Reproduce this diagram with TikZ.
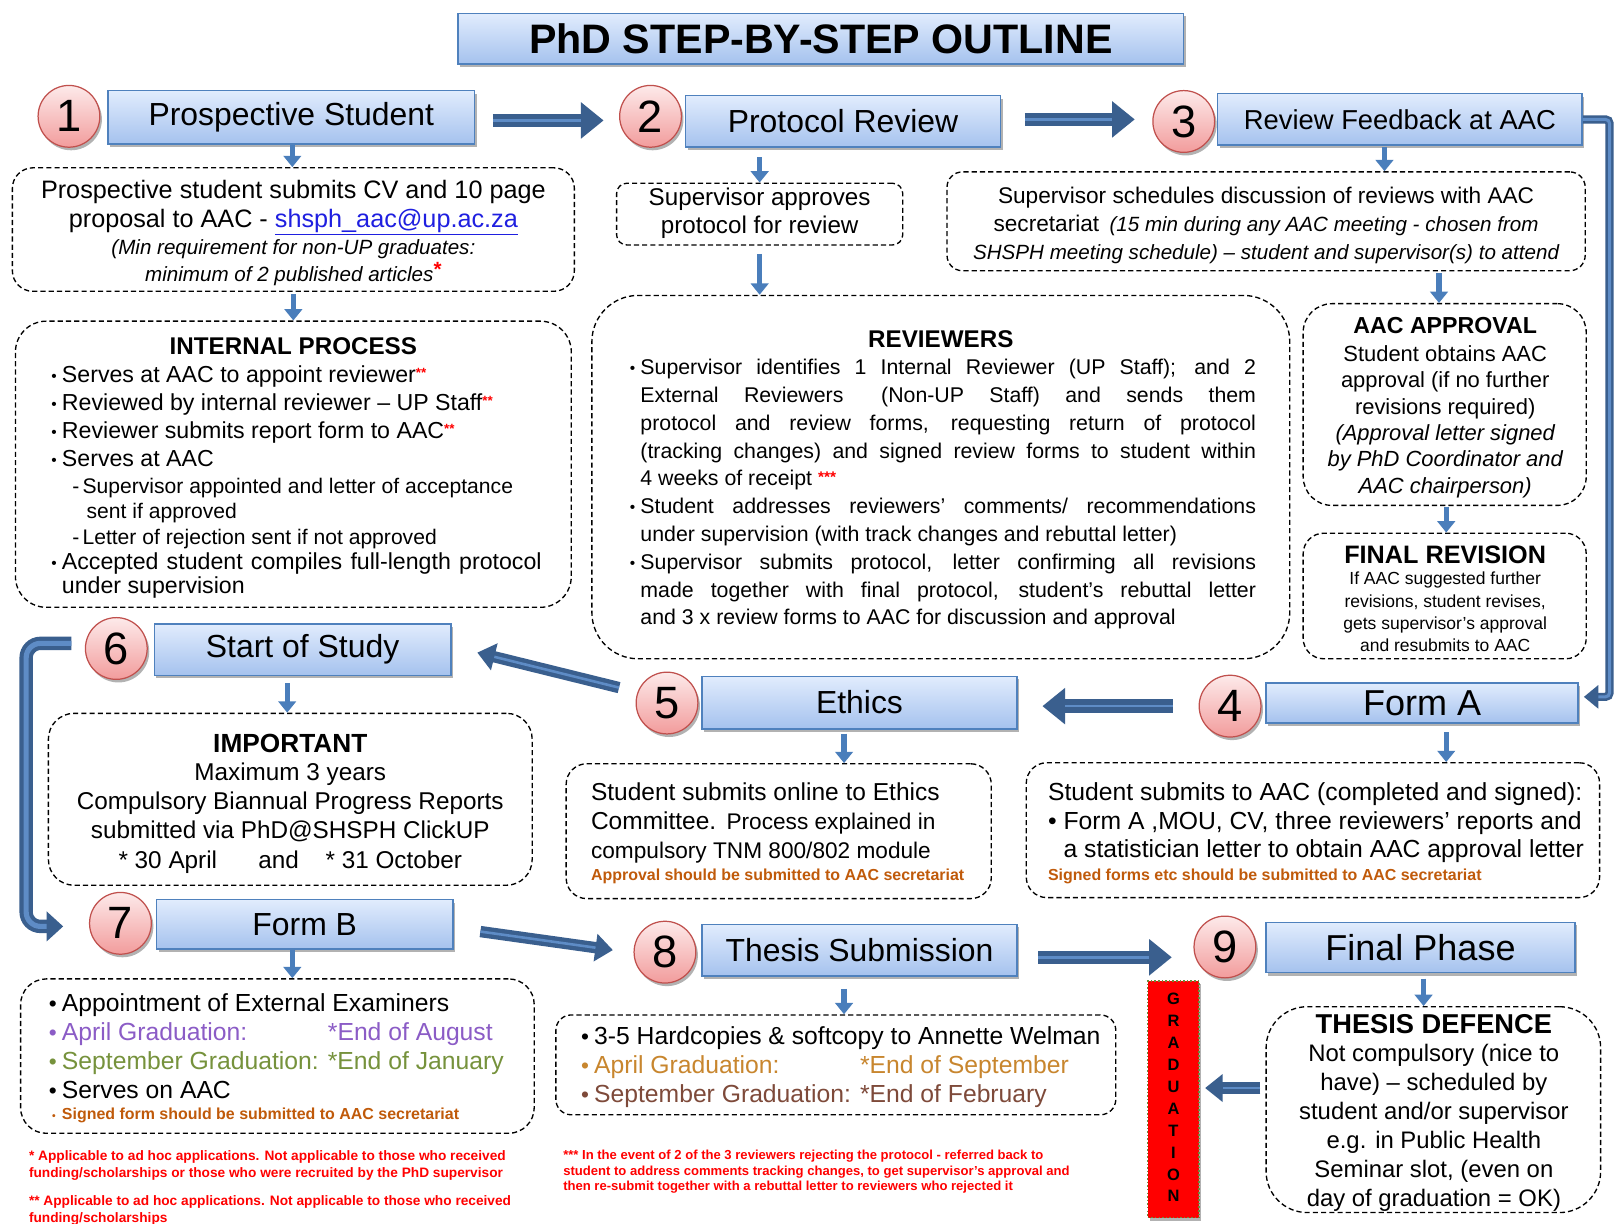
\documentclass[tikz,border=0pt]{standalone}
\usepackage{fontspec}
\setmainfont{Liberation Sans}
\usetikzlibrary{arrows.meta,shadows,calc}
\definecolor{hdrtop}{HTML}{E1ECFD}
\definecolor{hdrbot}{HTML}{A5C2EE}
\definecolor{hdrline}{HTML}{4F81BD}
\definecolor{ctop}{HTML}{FDEAEA}
\definecolor{cbot}{HTML}{F29C9C}
\definecolor{cline}{HTML}{C0504D}
\definecolor{adark}{HTML}{3A5F8E}
\definecolor{alight}{HTML}{5E8CC6}
\definecolor{sblue}{HTML}{4A7EBB}
\definecolor{linkblue}{HTML}{1F1FE0}
\definecolor{purp}{HTML}{8B5CC6}
\definecolor{olivec}{HTML}{76923C}
\definecolor{orng}{HTML}{C8862E}
\definecolor{brwn}{HTML}{7E4A3A}
\definecolor{sbrown}{HTML}{C05A0A}
\definecolor{gradred}{HTML}{FF0000}
\definecolor{gradline}{HTML}{6A8C3A}
\newcommand\fs[2]{\fontsize{#1}{#2}\selectfont}
\newcommand\cvt[1]{\vtop{\lineskiplimit=-\maxdimen\lineskip=0pt\halign{\hfil##\hfil\cr#1\crcr}}}
\newcommand\lvt[1]{\vtop{\lineskiplimit=-\maxdimen\lineskip=0pt\halign{##\hfil\cr#1\crcr}}}
\newcommand\jvt[1]{\vtop{\lineskiplimit=-\maxdimen\lineskip=0pt #1}}
\newcommand\bul{\llap{{\fs{15}{15}\raisebox{1pt}{\textbullet}}\hspace{5pt}}}
\newcommand\bulb{\llap{{\fs{22}{22}\textbullet}\hspace{5pt}}}
\newcommand\rs{{\color{red}\raisebox{5pt}{\fs{13}{13}\bfseries **}}}
\begin{document}
\begin{tikzpicture}[x=1pt,y=-1pt,
  hdr/.style={draw=hdrline, line width=1.4pt, top color=hdrtop, bottom color=hdrbot, inner sep=0pt,
    drop shadow={shadow xshift=2pt,shadow yshift=-3pt,opacity=0.3,fill=black}},
  circ/.style={circle, draw=cline, line width=1.2pt, top color=ctop, bottom color=cbot,
    minimum size=60pt, inner sep=0pt, font=\fs{44}{44},
    drop shadow={shadow xshift=2pt,shadow yshift=-3pt,opacity=0.3,fill=black}},
  dbox/.style={draw=black, line width=1.3pt, dash pattern=on 5pt off 3pt, rounded corners=#1, inner sep=0pt},
  dbox/.default=20pt,
  txt/.style={inner sep=0pt, anchor=base},
  txtl/.style={inner sep=0pt, anchor=base west},
  sarr/.style={draw=sblue, line width=5pt, -{Triangle[length=11pt,width=17pt]}},
  bigA/.style={draw=adark, line width=13pt, -{Triangle[length=22pt,width=34pt]}},
  bigAin/.style={draw=alight, line width=2.5pt, shorten >=22pt},
  midA/.style={draw=adark, line width=11pt, -{Triangle[length=17pt,width=26pt]}},
  midAin/.style={draw=alight, line width=2.5pt, shorten >=17pt},
  bendR/.style={draw=adark, line width=8pt, rounded corners=4pt, -{Triangle[length=14pt,width=22pt]}},
  bendRin/.style={draw=alight, line width=3pt, rounded corners=4pt, shorten >=14pt},
  bendL/.style={draw=adark, line width=13pt, rounded corners=14pt, -{Triangle[length=16pt,width=28pt]}},
  bendLin/.style={draw=alight, line width=5pt, rounded corners=14pt, shorten >=16pt}
]
\fill[white] (0,0) rectangle (1568,1189);
\path[use as bounding box] (0,0) rectangle (1568,1189);

% ---------- title ----------
\node[hdr, minimum width=705pt, minimum height=49pt, font=\fs{40}{40}\bfseries] (title) at (797.5,37.5) {PhD STEP-BY-STEP OUTLINE};

% ---------- header boxes ----------
\node[hdr, minimum width=356pt, minimum height=52pt, font=\fs{31}{31}] (h1) at (283,114) {Prospective Student};
\node[hdr, minimum width=306pt, minimum height=50pt, font=\fs{31}{31}] (h2) at (819,118) {Protocol Review};
\node[hdr, minimum width=354pt, minimum height=50pt, font=\fs{26.6}{27}] (h3) at (1360,116) {Review Feedback at AAC};
\node[hdr, minimum width=303pt, minimum height=39pt, font=\fs{35}{35}] (h4) at (1381.5,683) {Form A};
\node[hdr, minimum width=306pt, minimum height=51pt, font=\fs{31}{31}] (h5) at (835,682.5) {Ethics};
\node[hdr, minimum width=288pt, minimum height=50pt, font=\fs{31}{31}] (h6) at (294,631) {Start of Study};
\node[hdr, minimum width=288pt, minimum height=48pt, font=\fs{31}{31}] (h7) at (296,898) {Form B};
\node[hdr, minimum width=306pt, minimum height=50pt, font=\fs{31}{31}] (h8) at (835,923) {Thesis Submission};
\node[hdr, minimum width=300pt, minimum height=49pt, font=\fs{35}{35}] (h9) at (1380,920.5) {Final Phase};

% ---------- number circles ----------
\node[circ] (c1) at (67,113) {1};
\node[circ] (c2) at (632,113) {2};
\node[circ] (c3) at (1150,118) {3};
\node[circ] (c4) at (1195,686) {4};
\node[circ] (c5) at (648,683) {5};
\node[circ] (c6) at (113,630) {6};
\node[circ] (c7) at (117,897) {7};
\node[circ] (c8) at (646,925) {8};
\node[circ] (c9) at (1190,920) {9};

% ---------- dashed boxes ----------
\node[dbox=20pt, minimum width=546pt, minimum height=120pt] (d1) at (285,223) {};
\node[dbox=30pt, minimum width=540pt, minimum height=278pt] (d2) at (285,451) {};
\node[dbox=10pt, minimum width=278pt, minimum height=60pt] (dsup) at (738,208) {};
\node[dbox=45pt, minimum width=678pt, minimum height=353pt] (drev) at (914,463.5) {};
\node[dbox=15pt, minimum width=620pt, minimum height=96pt] (d3) at (1230,215) {};
\node[dbox=28pt, minimum width=275pt, minimum height=196pt] (daac) at (1403.5,393) {};
\node[dbox=20pt, minimum width=275pt, minimum height=122pt] (dfin) at (1403.5,579) {};
\node[dbox=25pt, minimum width=470pt, minimum height=167pt] (dimp) at (282,776.5) {};
\node[dbox=20pt, minimum width=413pt, minimum height=131pt] (deth) at (756.5,807.5) {};
\node[dbox=20pt, minimum width=557pt, minimum height=131pt] (dfa) at (1275.5,806.5) {};
\node[dbox=25pt, minimum width=499pt, minimum height=150pt] (dfb) at (269.5,1026) {};
\node[dbox=15pt, minimum width=544pt, minimum height=97pt] (dth) at (812,1034.5) {};
\node[dbox=40pt, minimum width=325pt, minimum height=200pt] (dtd) at (1392.5,1078) {};
\node[fill=gradred, draw=gradline, line width=1.5pt, dotted, minimum width=50pt, minimum height=230pt, inner sep=0pt,
  drop shadow={shadow xshift=2pt,shadow yshift=-3pt,opacity=0.3,fill=black}] (grad) at (1140,1068) {};

% ---------- texts ----------
\node[txt, font=\fs{24.5}{28}] (t1a) at (285,193) {\cvt{Prospective student submits CV and 10 page\cr
  proposal to AAC - {\color{linkblue}\underline{shsph\_aac@up.ac.za}}}};
\node[txt, font=\fs{20}{26}\itshape] (t1b) at (285,247) {\cvt{(Min requirement for non-UP graduates:\cr
  minimum of 2 published articles{\color{red}\raisebox{4pt}{\upshape\bfseries *}}}};

\node[txt, font=\fs{23.5}{24}\bfseries] (t2t) at (285,344) {INTERNAL PROCESS};
\node[txtl, font=\fs{22.5}{27}] (t2a) at (60,372) {\lvt{\bul Serves at AAC to appoint reviewer\rs\cr
  \bul Reviewed by internal reviewer – UP Staff\rs\cr
  \bul Reviewer submits report form to AAC\rs\cr
  \bul Serves at AAC}};
\node[txtl, font=\fs{20.5}{25}] (t2b) at (80,479) {\lvt{\llap{-\hspace{3pt}}Supervisor appointed and letter of acceptance\cr
  \hspace{4pt}sent if approved\cr
  \llap{-\hspace{3pt}}Letter of rejection sent if not approved}};
\node[txtl, font=\fs{22.5}{24}] (t2c) at (60,553) {\jvt{\hbox to 466pt{\bul Accepted student compiles full-length protocol}
  \hbox{under supervision}}};

\node[txt, font=\fs{23.5}{27}] (tsup) at (738,200) {\cvt{Supervisor approves\cr protocol for review}};

\node[txt, font=\fs{23.5}{24}\bfseries] (trevt) at (914,338) {REVIEWERS};
\node[txtl, font=\fs{20.7}{27}] (trev) at (622,364) {\jvt{%
  \hbox to 598pt{\bul Supervisor identifies 1 Internal Reviewer (UP Staff); and 2}
  \hbox to 598pt{External Reviewers\hspace{12pt} (Non-UP Staff) and sends them}
  \hbox to 598pt{protocol and review forms, requesting return of protocol}
  \hbox to 598pt{(tracking changes) and signed review forms to student within}
  \hbox{4 weeks of receipt {\color{red}\raisebox{3pt}{\fs{15}{15}\bfseries ***}}}
  \hbox to 598pt{\bul Student addresses reviewers’ comments/ recommendations}
  \hbox{under supervision (with track changes and rebuttal letter)}
  \hbox to 598pt{\bul Supervisor submits protocol, letter confirming all revisions}
  \hbox to 598pt{made together with final protocol, student’s rebuttal letter}
  \hbox{and 3 x review forms to AAC for discussion and approval}}};

\node[txt, font=\fs{22}{27}] (t3) at (1230,198) {\cvt{Supervisor schedules discussion of reviews with AAC\cr
  secretariat\hspace{10pt}{\fs{20}{27}\itshape (15 min during any AAC meeting - chosen from}\cr
  {\fs{20}{27}\itshape SHSPH meeting schedule) – student and supervisor(s) to attend}}};

\node[txt, font=\fs{22.5}{24}\bfseries] (taact) at (1404,324) {AAC APPROVAL};
\node[txt, font=\fs{21.3}{25.6}] (taac) at (1404,351) {\cvt{Student obtains AAC\cr approval (if no further\cr revisions required)\cr
  {\itshape (Approval letter signed}\cr {\itshape by PhD Coordinator and}\cr {\itshape AAC chairperson)}}};

\node[txt, font=\fs{24.5}{25}\bfseries] (tfint) at (1404,547) {FINAL REVISION};
\node[txt, font=\fs{17}{21.7}] (tfin) at (1404,568) {\cvt{If AAC suggested further\cr revisions, student revises,\cr
  gets supervisor’s approval\cr and resubmits to AAC}};

\node[txt, font=\fs{25.5}{26}\bfseries] (timpt) at (282,731) {IMPORTANT};
\node[txt, font=\fs{23.6}{28.5}] (timp) at (282,758) {\cvt{Maximum 3 years\cr Compulsory Biannual Progress Reports\cr
  submitted via PhD@SHSPH ClickUP\cr * 30 April\hspace{40pt}and\hspace{26pt}* 31 October}};

\node[txtl, font=\fs{23.8}{28}] (teth) at (574,778) {\jvt{\hbox{Student submits online to Ethics}
  \hbox{Committee.\hspace{10pt}{\fs{22}{28}Process explained in}}
  \hbox{\fs{22}{28}compulsory TNM 800/802 module}}};
\node[txtl, font=\fs{15.5}{16}\bfseries, text=sbrown] (tethS) at (574,855) {Approval should be submitted to AAC secretariat};

\node[txtl, font=\fs{24}{27.5}] (tfa) at (1018,778) {\lvt{Student submits to AAC (completed and signed):\cr
  \textbullet\ Form A ,MOU, CV, three reviewers’ reports and\cr
  \phantom{\textbullet\ }a statistician letter to obtain AAC approval letter}};
\node[txtl, font=\fs{15.5}{16}\bfseries, text=sbrown] (tfaS) at (1018,855) {Signed forms etc should be submitted to AAC secretariat};

\node[txtl, font=\fs{24}{28}] (tfb) at (60,983) {\lvt{\bulb Appointment of External Examiners\cr
  {\color{purp}\bulb\rlap{April Graduation:}\phantom{September Graduation: }*End of August}\cr
  {\color{olivec}\bulb September Graduation: *End of January}\cr
  \bulb Serves on AAC}};
\node[txtl, font=\fs{15.5}{16}\bfseries, text=sbrown] (tfbS) at (60,1088) {\llap{{\fs{10}{10}\textbullet}\hspace{6pt}}Signed form should be submitted to AAC secretariat};

\node[txtl, font=\fs{24}{28}] (tth) at (577,1015) {\lvt{\bulb 3-5 Hardcopies \& softcopy to Annette Welman\cr
  {\color{orng}\bulb\rlap{April Graduation:}\phantom{September Graduation: }*End of September}\cr
  {\color{brwn}\bulb September Graduation: *End of February}}};

\node[txt, font=\fs{26.5}{27}\bfseries] (ttdt) at (1393,1004) {THESIS DEFENCE};
\node[txt, font=\fs{23.2}{28.2}] (ttd) at (1393,1031) {\cvt{Not compulsory (nice to\cr have) – scheduled by\cr
  student and/or supervisor\cr e.g. in Public Health\cr Seminar slot, (even on\cr day of graduation = OK)}};

\node[txt, font=\fs{16}{21.3}\bfseries] (tgrad) at (1140,976) {\cvt{G\cr R\cr A\cr D\cr U\cr A\cr T\cr I\cr O\cr N}};

\node[txtl, font=\fs{13.3}{17}\bfseries, text=red] (tfn1) at (28,1127) {\lvt{* Applicable to ad hoc applications. Not applicable to those who received\cr
  funding/scholarships or those who were recruited by the PhD supervisor}};
\node[txtl, font=\fs{13.3}{17}\bfseries, text=red] (tfn2) at (28,1171) {\lvt{** Applicable to ad hoc applications. Not applicable to those who received\cr
  funding/scholarships}};
\node[txtl, font=\fs{12.7}{15.5}\bfseries, text=red] (tfn3) at (547,1126) {\lvt{*** In the event of 2 of the 3 reviewers rejecting the protocol - referred back to\cr
  student to address comments tracking changes, to get supervisor’s approval and\cr
  then re-submit together with a rebuttal letter to reviewers who rejected it}};

% ---------- small down arrows ----------
\draw[sarr] ([xshift=1pt]h1.south) -- ([xshift=1pt]h1.south |- d1.north);
\draw[sarr] ([yshift=-2pt]d1.south) -- (d1.south |- d2.north);
\coordinate (s2) at ($(dsup.north |- h2.south)+(0,9)$);
\draw[sarr] (s2) -- (dsup.north);
\coordinate (s2b) at ($(dsup.south)+(0,8)$);
\draw[sarr] (s2b) -- (s2b |- drev.north);
\coordinate (s3) at ($(h3.south)+(-15,1)$);
\draw[sarr] (s3) -- (s3 |- d3.north);
\coordinate (s3b) at ($(d3.south)+(168,2)$);
\draw[sarr] (s3b) -- (s3b |- daac.north);
\coordinate (s3c) at ($(daac.south)+(1.5,1)$);
\draw[sarr] (s3c) -- (s3c |- dfin.north);
\coordinate (s6) at ($(h6.south)+(-15,7)$);
\draw[sarr] (s6) -- (s6 |- dimp.north);
\coordinate (s5) at ($(h5.south)+(-15,4)$);
\draw[sarr] (s5) -- (s5 |- deth.north);
\coordinate (s4) at ($(h4.south)+(23.5,8)$);
\draw[sarr] (s4) -- (s4 |- dfa.north);
\coordinate (s7) at ($(h7.south)+(-12,0)$);
\draw[sarr] (s7) -- (s7 |- dfb.north);
\coordinate (s8) at ($(h8.south)+(-15,12)$);
\draw[sarr] (s8) -- (s8 |- dth.north);
\coordinate (s9) at ($(h9.south)+(3,5)$);
\draw[sarr] (s9) -- (s9 |- dtd.north);

% ---------- big arrows ----------
\draw[bigA] ($(h1.east)+(17,3)$) -- ($(c2.west)+(-15,4)$);
\draw[bigAin] ($(h1.east)+(17,3)$) -- ($(c2.west)+(-15,4)$);
\draw[bigA] ($(h2.east)+(23,-2)$) -- ($(c3.west)+(-17,-2)$);
\draw[bigAin] ($(h2.east)+(23,-2)$) -- ($(c3.west)+(-17,-2)$);
\draw[bigA] ($(c4.west)+(-25,0)$) -- ($(h5.east)+(24,3.5)$);
\draw[bigAin] ($(c4.west)+(-25,0)$) -- ($(h5.east)+(24,3.5)$);
\draw[midA] ($(c5.west)+(-16,-15)$) -- ($(h6.east)+(25,3)$);
\draw[midAin] ($(c5.west)+(-16,-15)$) -- ($(h6.east)+(25,3)$);
\draw[midA] ($(h7.east)+(26,7)$) -- ($(c8.west)+(-20,-2)$);
\draw[midAin] ($(h7.east)+(26,7)$) -- ($(c8.west)+(-20,-2)$);
\draw[bigA] ($(h8.east)+(20,7)$) -- ($(c9.west)+(-21,10)$);
\draw[bigAin] ($(h8.east)+(20,7)$) -- ($(c9.west)+(-21,10)$);
\draw[midA] ($(dtd.west)+(-5,-21)$) -- ($(grad.east)+(5,-11)$);
\draw[midAin] ($(dtd.west)+(-5,-21)$) -- ($(grad.east)+(5,-11)$);

% bent arrows
\draw[bendR] (h3.east) -- ++(26,0) |- ($(h4.east)+(5,-6)$);
\draw[bendRin] (h3.east) -- ++(26,0) |- ($(h4.east)+(5,-6)$);
\draw[bendL] ($(c6.west)+(-13,-5)$) -- ++(-44,0) |- ($(c7.west)+(-25,3)$);
\draw[bendLin] ($(c6.west)+(-13,-5)$) -- ++(-44,0) |- ($(c7.west)+(-25,3)$);
\end{tikzpicture}
\end{document}
